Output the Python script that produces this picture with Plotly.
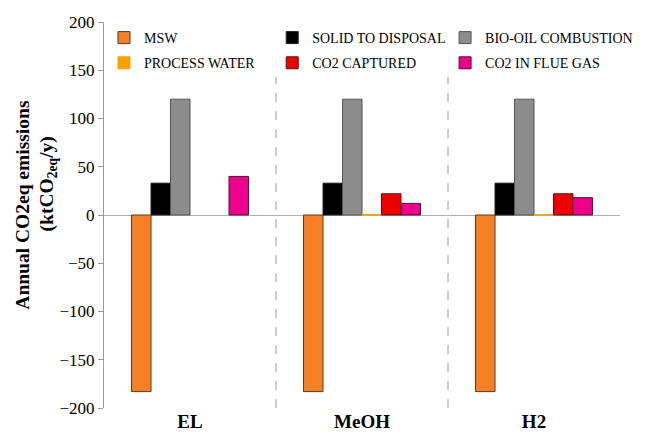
import plotly.graph_objects as go

# Scenarios and emission contributions (ktCO2eq/y)
scenarios = ["EL", "MeOH", "H2"]
series_names = ["MSW", "SOLID TO DISPOSAL", "BIO-OIL COMBUSTION",
                "PROCESS WATER", "CO2 CAPTURED", "CO2 IN FLUE GAS"]
msw = [-183, -183, -183]
solid_disposal = [33, 33, 33]
biooil_combustion = [120, 120, 120]
process_water = [None, 0.6, 0.6]
co2_captured = [None, 22, 22]
co2_flue_gas = [40, 12, 18]

series_values = [msw, solid_disposal, biooil_combustion,
                 process_water, co2_captured, co2_flue_gas]
colors = ["#F58025", "#000000", "#8C8C8C", "#F5A300", "#EE0000", "#EC008C"]
outlines = ["#5a3a20", "#222222", "#555555", "#F5A300", "#5a1010", "#5a1030"]
# legend column for each series (three columns, two rows)
legend_ids = ["legend", "legend2", "legend3", "legend", "legend2", "legend3"]

font_family = "Liberation Serif"

fig = go.Figure()
for name, vals, col, oc, lg in zip(series_names, series_values, colors,
                                   outlines, legend_ids):
    fig.add_trace(go.Bar(
        x=scenarios, y=vals, name=name, legend=lg, legendgroup=name,
        marker=dict(color=col, line=dict(color=oc, width=1)),
    ))

# dashed separators between scenarios (stop below the legend)
for xpos in [0.5, 1.5]:
    fig.add_shape(type="line", xref="x", yref="y", x0=xpos, x1=xpos,
                  y0=-200, y1=143, layer="below",
                  line=dict(color="#9a9a9a", width=1, dash="dash"))

# two-line rotated y-axis title
fig.add_annotation(text="<b>Annual CO2eq emissions</b>", textangle=-90,
                   xref="paper", yref="paper", x=-0.158, y=0.528,
                   xanchor="center", yanchor="middle", showarrow=False,
                   font=dict(size=19.5, family=font_family, color="black"))
fig.add_annotation(text="<b>(ktCO<sub>2eq</sub>/y)</b>", textangle=-90,
                   xref="paper", yref="paper", x=-0.108, y=0.58,
                   xanchor="center", yanchor="middle", showarrow=False,
                   font=dict(size=19.5, family=font_family, color="black"))

legend_style = dict(
    orientation="v", y=1.0, xanchor="left", yanchor="top",
    bgcolor="rgba(0,0,0,0)", font=dict(size=14, family=font_family, color="black"),
    itemwidth=30, tracegroupgap=4,
)

fig.update_layout(
    width=660, height=443,
    margin=dict(l=104, r=40, t=22, b=35),
    paper_bgcolor="white", plot_bgcolor="white",
    barmode="group", bargap=0.32, bargroupgap=0,
    font=dict(family=font_family, color="black"),
    showlegend=True,
    legend=dict(x=0.0, **legend_style),
    legend2=dict(x=0.326, **legend_style),
    legend3=dict(x=0.661, **legend_style),
    xaxis=dict(
        range=[-0.5, 2.5], showline=False, showgrid=False, ticks="",
        tickfont=dict(size=19, family=font_family, weight="bold", color="black"),
    ),
    yaxis=dict(
        range=[-200, 200], dtick=50, showgrid=False,
        showline=True, linecolor="#9a9a9a", linewidth=1,
        ticks="outside", ticklen=5, tickcolor="#9a9a9a",
        zeroline=True, zerolinecolor="#b0b0b0", zerolinewidth=1,
        tickfont=dict(size=17, family=font_family, color="black"),
    ),
)

fig.write_html("out.html")
